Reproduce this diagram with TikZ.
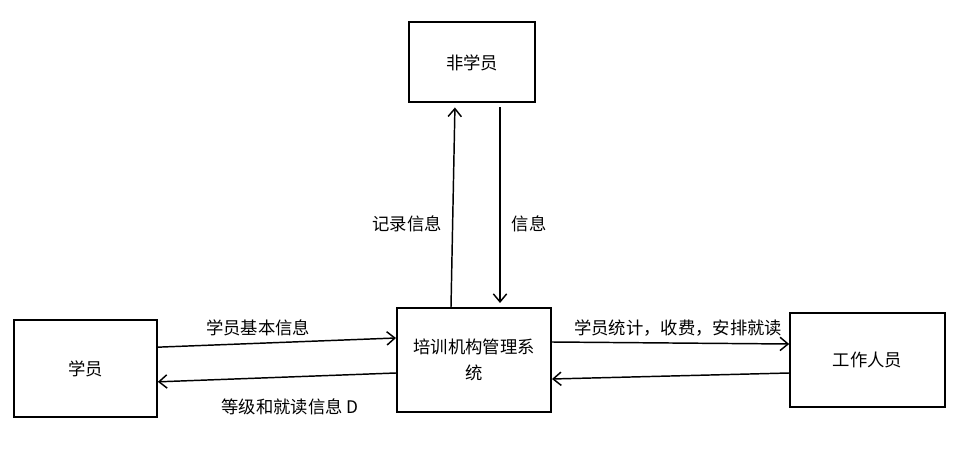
\documentclass[tikz,border=0pt]{standalone}
\usepackage{fontspec}
\setmainfont{Noto Sans CJK SC}
\usepackage{tikz}
\usetikzlibrary{arrows.meta,positioning}

\begin{document}
\begin{tikzpicture}[
  x=0.75pt, y=0.75pt,
  font=\fontsize{13pt}{20pt}\selectfont,
  box/.style={draw, line width=1.5pt, align=center, fill=white},
  arr/.style={-{Straight Barb[length=6pt,width=10pt]}, line width=1.1pt},
  lbl/.style={inner sep=1pt}
]
  \useasboundingbox (0,0) rectangle (964,461);
  \node[box, minimum width=94.5pt, minimum height=60pt] (non) at (472,398.5) {非学员};
  \node[box, minimum width=107pt, minimum height=72.75pt] (stu) at (85.5,92.5) {学员};
  \node[box, minimum width=115.5pt, minimum height=78pt] (sys) at (474,101) {培训机构管理系\\统};
  \node[box, minimum width=116pt, minimum height=70.5pt] (staff) at (867.5,101) {工作人员};
  \draw[arr] ([yshift=16pt]stu.east) -- ([yshift=16.5pt]sys.west);
  \draw[arr] ([yshift=-9.75pt]sys.west) -- ([yshift=-10pt]stu.east);
  \draw[arr] ([yshift=13.5pt]sys.east) -- ([yshift=12pt]staff.west);
  \draw[arr] ([yshift=-9.75pt]staff.west) -- ([yshift=-14.25pt]sys.east);
  \draw[arr, shorten >=3pt] ([xshift=-17.25pt]sys.north) -- ([xshift=-12.75pt]non.south);
  \draw[arr, shorten <=3pt, shorten >=3pt] ([xshift=21pt]non.south) -- ([xshift=19.5pt]sys.north);
  \node[lbl] (l1) at (258,133) {学员基本信息};
  \node[lbl] (l2) at (290,54) {等级和就读信息 D};
  \node[lbl] (l3) at (678,133) {学员统计，收费，安排就读};
  \node[lbl] (l4) at (407,237) {记录信息};
  \node[lbl] (l5) at (529,237) {信息};
\end{tikzpicture}
\end{document}
